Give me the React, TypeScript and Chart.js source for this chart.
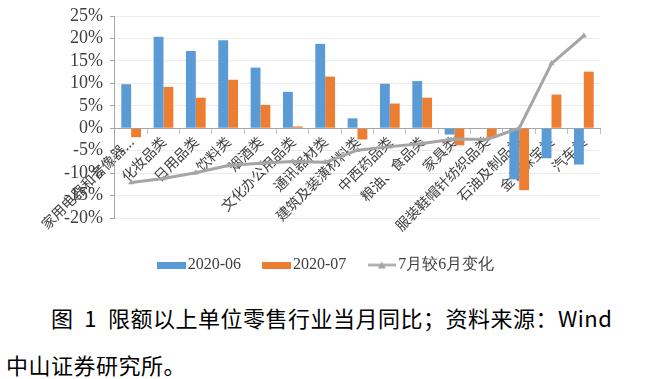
import React, { useEffect, useRef } from 'react';
import { Chart, registerables } from 'chart.js';

Chart.register(...registerables);

const categories = [
  '家用电器和音像器...',
  '化妆品类',
  '日用品类',
  '饮料类',
  '烟酒类',
  '文化办公用品类',
  '通讯器材类',
  '建筑及装潢材料类',
  '中西药品类',
  '粮油、食品类',
  '家具类',
  '服装鞋帽针纺织品类',
  '石油及制品类',
  '金银珠宝类',
  '汽车类',
];

const june2020 = [9.8, 20.4, 17.2, 19.6, 13.5, 8.1, 18.8, 2.2, 9.9, 10.5, -1.4, 0, -11.4, -6.7, -8.1];
const july2020 = [-2.0, 9.2, 6.8, 10.8, 5.2, 0.4, 11.5, -2.5, 5.5, 6.8, -3.8, -2.0, -13.8, 7.5, 12.6];
const julyVsJune = [-12.1, -11.2, -9.9, -8.3, -7.8, -7.4, -7.6, -4.9, -4.1, -3.4, -2.4, -2.5, 0, 14.4, 20.6];

const seriesNames = ['2020-06', '2020-07', '7月较6月变化'];
const yMin = -20;
const yMax = 25;
const yStep = 5;

const BLUE = '#5B9BD5';
const ORANGE = '#ED7D31';
const GRAY = '#A5A5A5';
const SERIF = "'Liberation Serif', 'Times New Roman', 'DejaVu Serif', serif";

function rectSwatch(color: string) {
  const c = document.createElement('canvas');
  c.width = 29;
  c.height = 7;
  const ctx = c.getContext('2d')!;
  ctx.fillStyle = color;
  ctx.fillRect(0, 0, 29, 7);
  return c;
}

function lineSwatch(color: string) {
  const c = document.createElement('canvas');
  c.width = 28;
  c.height = 9;
  const ctx = c.getContext('2d')!;
  ctx.strokeStyle = color;
  ctx.lineWidth = 2.5;
  ctx.beginPath();
  ctx.moveTo(0, 4.5);
  ctx.lineTo(28, 4.5);
  ctx.stroke();
  ctx.fillStyle = color;
  ctx.beginPath();
  ctx.moveTo(14, 1);
  ctx.lineTo(18, 8);
  ctx.lineTo(10, 8);
  ctx.closePath();
  ctx.fill();
  return c;
}

export default function App() {
  const ref = useRef<HTMLCanvasElement>(null);

  useEffect(() => {
    if (!ref.current) return;
    const swatches = [rectSwatch(BLUE), rectSwatch(ORANGE), lineSwatch(GRAY)];
    const chart = new Chart(ref.current, {
      type: 'bar',
      data: {
        labels: categories,
        datasets: [
          {
            type: 'bar',
            label: seriesNames[0],
            data: june2020,
            backgroundColor: BLUE,
            categoryPercentage: 0.61,
            barPercentage: 1,
            order: 1,
          },
          {
            type: 'bar',
            label: seriesNames[1],
            data: july2020,
            backgroundColor: ORANGE,
            categoryPercentage: 0.61,
            barPercentage: 1,
            order: 1,
          },
          {
            type: 'line',
            label: seriesNames[2],
            data: julyVsJune,
            borderColor: GRAY,
            backgroundColor: GRAY,
            borderWidth: 3,
            pointStyle: 'triangle',
            pointRadius: 3.5,
            pointBorderWidth: 0,
            pointBackgroundColor: GRAY,
            order: 0,
          } as any,
        ],
      },
      options: {
        animation: false,
        responsive: false,
        layout: { padding: { left: 57, right: 47, top: 12, bottom: 2 } },
        plugins: {
          tooltip: { enabled: false },
          legend: {
            position: 'bottom',
            title: { display: true, text: ' ', font: { size: 10, lineHeight: 1.2 }, padding: 0 },
            labels: {
              usePointStyle: true,
              pointStyleWidth: 17,
              padding: 27,
              color: '#404040',
              font: { family: SERIF, size: 16 },
              generateLabels: () =>
                seriesNames.map((name, i) => ({
                  text: name,
                  pointStyle: swatches[i] as any,
                  fillStyle: 'transparent',
                  strokeStyle: 'transparent',
                  lineWidth: 0,
                  hidden: false,
                  datasetIndex: i,
                  fontColor: '#404040',
                })),
            },
          },
        },
        scales: {
          x: {
            type: 'category',
            position: { y: 0 } as any,
            offset: true,
            grid: {
              display: true,
              drawOnChartArea: false,
              drawTicks: true,
              tickLength: 5,
              color: '#BFBFBF',
              offset: true,
            },
            border: { display: true, color: '#A6A6A6', width: 1 },
            ticks: {
              autoSkip: false,
              minRotation: 45,
              maxRotation: 45,
              padding: 0,
              color: '#404040',
              font: { family: "'Noto Sans CJK SC'", size: 14 },
            },
          },
          y: {
            min: yMin,
            max: yMax,
            ticks: {
              stepSize: yStep,
              autoSkip: false,
              callback: (v: any) => `${v}%`,
              color: '#404040',
              padding: 7,
              font: { family: SERIF, size: 18, lineHeight: 1 },
            },
            grid: { color: '#EBEBEB', tickColor: '#A6A6A6', tickLength: 5 },
            border: { color: '#A6A6A6' },
          },
        },
      },
    });
    return () => chart.destroy();
  }, []);

  const captionStyle: React.CSSProperties = {
    position: 'absolute',
    fontFamily: "'Noto Sans CJK SC', sans-serif",
    fontSize: 22,
    lineHeight: '22px',
    letterSpacing: '0.5px',
    color: '#000',
    whiteSpace: 'pre',
    margin: 0,
  };

  return (
    <div style={{ position: 'absolute', left: 0, top: 0, width: 647, height: 379, background: '#fff' }}>
      <canvas ref={ref} width={647} height={285} style={{ display: 'block' }} />
      <div style={{ ...captionStyle, left: 51, top: 306 }}>{'图  1  限额以上单位零售行业当月同比；资料来源：Wind'}</div>
      <div style={{ ...captionStyle, left: 6, top: 353 }}>{'中山证券研究所。'}</div>
    </div>
  );
}
